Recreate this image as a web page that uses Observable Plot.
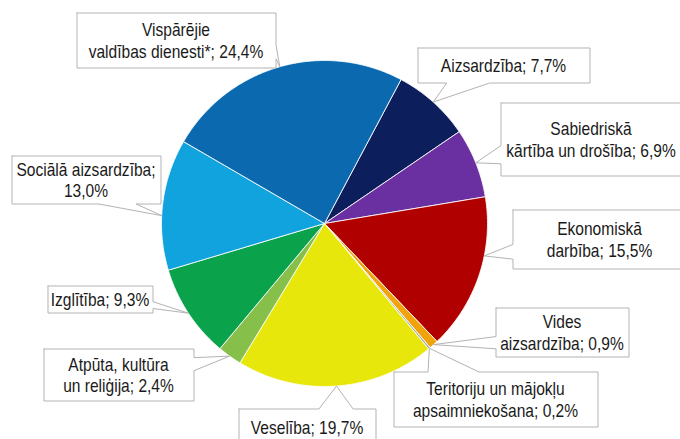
<!DOCTYPE html>
<html><head><meta charset="utf-8">
<script src="https://cdn.jsdelivr.net/npm/d3@7"></script>
<script src="https://cdn.jsdelivr.net/npm/@observablehq/plot@0.6"></script>
<style>html,body{margin:0;padding:0;background:#fff;overflow:hidden}</style>
</head><body><div id="chart"></div>
<script>
// ---- data ----
const categories = [
  "Aizsardzība",
  "Sabiedriskā kārtība un drošība",
  "Ekonomiskā darbība",
  "Vides aizsardzība",
  "Teritoriju un mājokļu apsaimniekošana",
  "Veselība",
  "Atpūta, kultūra un reliģija",
  "Izglītība",
  "Sociālā aizsardzība",
  "Vispārējie valdības dienesti*"
];
const shares = [7.7, 6.9, 15.5, 0.9, 0.2, 19.7, 2.4, 9.3, 13.0, 24.4];
const labels = [
  "Aizsardzība; 7,7%",
  "Sabiedriskā\nkārtība un drošība; 6,9%",
  "Ekonomiskā\ndarbība; 15,5%",
  "Vides\naizsardzība; 0,9%",
  "Teritoriju un mājokļu\napsaimniekošana; 0,2%",
  "Veselība; 19,7%",
  "Atpūta, kultūra\nun reliģija; 2,4%",
  "Izglītība; 9,3%",
  "Sociālā aizsardzība;\n13,0%",
  "Vispārējie\nvaldības dienesti*; 24,4%"
];
const colors = ["#0c1f5c","#6a2fa0","#b00000","#f0a30a","#a6a6a6","#e7e70c","#86c04a","#0aa24b","#11a3de","#0b69b0"];

// ---- layout ----
const W = 680, H = 439;
const CX = 324, CY = 223, R = 163, START = 28; // degrees clockwise from 12 o'clock
const boxes = [
  [417, 47, 589, 82],
  [500, 102, 681, 175],
  [512, 209, 686, 268],
  [495, 307, 628, 356],
  [393, 371, 597, 426],
  [238, 408, 375, 446],
  [43, 348, 193, 400],
  [47, 285, 152, 312],
  [11, 155, 160, 203],
  [76, 12, 275, 67]
];
const tipShift = [0, 0, -7, 0, 0, 0, 0, 0, -4, 0];
const textScale = 0.865;

// ---- slices ----
const rad = a => a * Math.PI / 180;
const slicePts = [];
const mids = [];
let acc = 0;
shares.forEach((v, i) => {
  const a0 = START + acc * 3.6, a1 = START + (acc + v) * 3.6;
  acc += v;
  mids.push((a0 + a1) / 2);
  slicePts.push({k: i, x: CX, y: CY});
  const n = Math.max(2, Math.ceil((a1 - a0) / 0.5));
  for (let j = 0; j <= n; j++) {
    const a = rad(a0 + (a1 - a0) * j / n);
    slicePts.push({k: i, x: CX + R * Math.sin(a), y: CY - R * Math.cos(a)});
  }
  slicePts.push({k: i, x: CX, y: CY});
});

// ---- callouts (Excel-like wedge rectangle) ----
function callout(b, tip) {
  let [x1, y1, x2, y2] = b;
  x1 += 0.5; y1 += 0.5; x2 += 0.5; y2 += 0.5;
  const w = x2 - x1, h = y2 - y1, hc = (x1 + x2) / 2, vc = (y1 + y2) / 2;
  const dx = tip[0] - hc, dy = tip[1] - vc;
  const dq = dx * h / w, dz = Math.abs(dy) - Math.abs(dq);
  const xa = x1 + w * (dx > 0 ? 7 : 2) / 12, xb = x1 + w * (dx > 0 ? 10 : 5) / 12;
  const ya = y1 + h * (dy > 0 ? 7 : 2) / 12, yb = y1 + h * (dy > 0 ? 10 : 5) / 12;
  let p;
  if (dz > 0 && dy > 0) p = [[x1,y1],[x2,y1],[x2,y2],[xb,y2],tip,[xa,y2],[x1,y2]];
  else if (dz > 0) p = [[x1,y1],[xa,y1],tip,[xb,y1],[x2,y1],[x2,y2],[x1,y2]];
  else if (dx > 0) p = [[x1,y1],[x2,y1],[x2,ya],tip,[x2,yb],[x2,y2],[x1,y2]];
  else p = [[x1,y1],[x2,y1],[x2,y2],[x1,y2],[x1,yb],tip,[x1,ya]];
  p.push([x1, y1]);
  return p;
}
const calloutPts = [];
const textData = [];
categories.forEach((c, i) => {
  const a = rad(mids[i] + tipShift[i]);
  const tip = [CX + R * Math.sin(a), CY - R * Math.cos(a)];
  callout(boxes[i], tip).forEach(([x, y]) => calloutPts.push({k: i, x, y}));
  const b = boxes[i];
  textData.push({x: (b[0] + b[2]) / 2, y: (b[1] + b[3]) / 2, label: labels[i]});
});

const svg = Plot.plot({
  width: W, height: H,
  marginTop: 0, marginRight: 0, marginBottom: 0, marginLeft: 0,
  x: {domain: [0, W], range: [0, W], axis: null},
  y: {domain: [0, H], range: [0, H], axis: null},
  color: {type: "identity"},
  style: {background: "#fff", overflow: "visible"},
  marks: [
    Plot.line(slicePts, {x: "x", y: "y", z: "k", fill: d => colors[d.k], stroke: "#fff", strokeWidth: 1, strokeOpacity: 0.85, strokeLinejoin: "round"}),
    Plot.line(calloutPts, {x: "x", y: "y", z: "k", fill: "#fff", stroke: "#b3b3b3", strokeWidth: 1, strokeLinejoin: "miter"}),
    Plot.text(textData, {x: "x", y: "y", text: "label", fontSize: 18, fontFamily: "'Liberation Sans', Arial, sans-serif", lineHeight: 1.2, fill: "#1a1a1a", textAnchor: "middle", lineAnchor: "middle"})
  ]
});

d3.select(svg).selectAll('g[aria-label="text"] text').each(function () {
  const t = this.getAttribute("transform");
  if (t) this.setAttribute("transform", t + ` scale(${textScale},1)`);
  else {
    const x = +this.getAttribute("x") || 0, y = +this.getAttribute("y") || 0;
    this.setAttribute("transform", `translate(${x},${y}) scale(${textScale},1) translate(${-x},${-y})`);
  }
});
document.getElementById("chart").appendChild(svg);
</script>
</body></html>
